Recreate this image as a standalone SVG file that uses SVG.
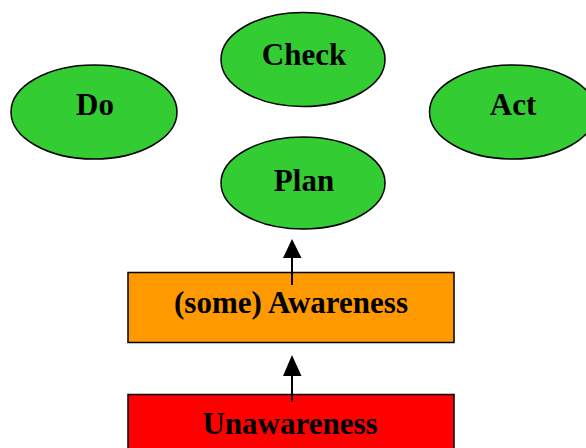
<svg xmlns="http://www.w3.org/2000/svg" width="586" height="448" viewBox="0 0 586 448">
<style>
.ell{fill:#33CC33;stroke:#000;stroke-width:1.5}
.box{stroke:#000;stroke-width:1.5}
.lbl{font-family:"Liberation Serif","Times New Roman",serif;font-weight:bold;font-size:31px;text-anchor:middle;fill:#000}
.conn{stroke:#000;stroke-width:2;fill:none}
</style>
<rect width="586" height="448" fill="#fff"/>
<g id="check"><ellipse class="ell" cx="303" cy="59.5" rx="82" ry="47"/><text class="lbl" x="304" y="65">Check</text></g>
<g id="do"><ellipse class="ell" cx="94" cy="112" rx="83" ry="47"/><text class="lbl" x="95" y="115">Do</text></g>
<g id="act"><ellipse class="ell" cx="512.5" cy="112" rx="83" ry="47"/><text class="lbl" x="513" y="115">Act</text></g>
<g id="plan"><ellipse class="ell" cx="303" cy="183" rx="82" ry="46"/><text class="lbl" x="304" y="191">Plan</text></g>
<g id="awareness"><rect class="box" x="128" y="272.5" width="326" height="70" fill="#FF9900"/><text class="lbl" x="291" y="313">(some) Awareness</text></g>
<g id="unawareness"><rect class="box" x="128" y="394.5" width="326" height="60" fill="#FF0000"/><text class="lbl" x="290" y="433.5">Unawareness</text></g>
<g id="connectors">
<line class="conn" x1="292" y1="285" x2="292" y2="256"/>
<polygon points="292,239 283,258 301.5,258" fill="#000"/>
<line class="conn" x1="292" y1="402" x2="292" y2="374"/>
<polygon points="292,355 283,376 301.5,376" fill="#000"/>
</g>
</svg>
